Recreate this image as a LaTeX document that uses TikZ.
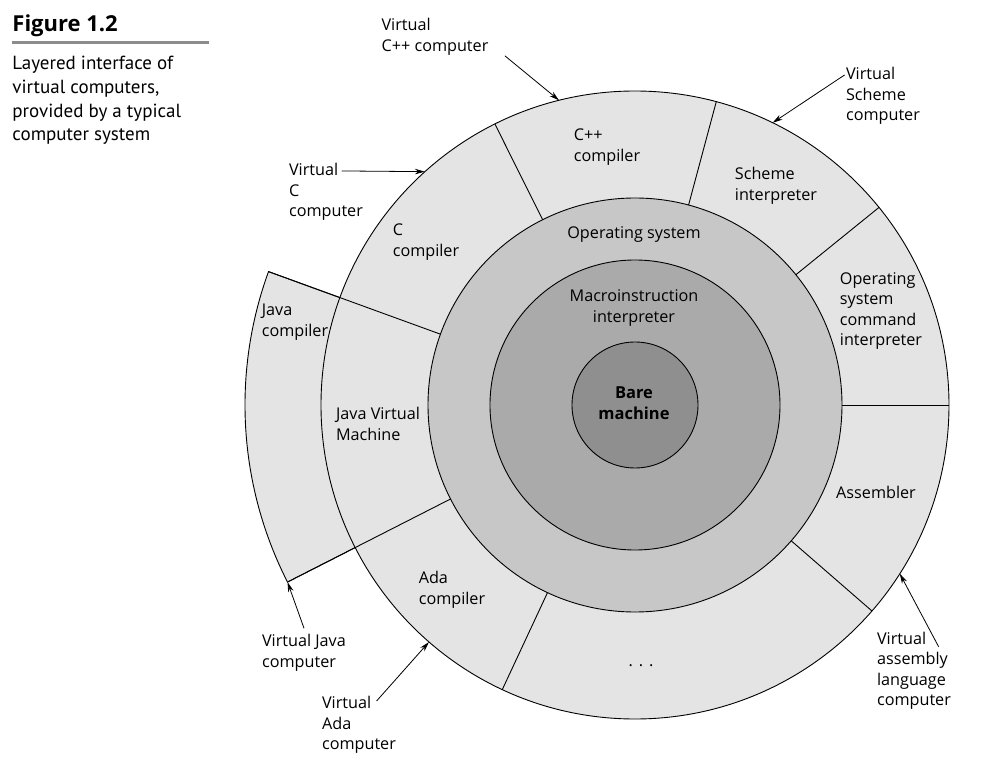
\documentclass[tikz,border=0pt]{standalone}
\usepackage{fontspec}
\setmainfont{Open Sans}
\newfontfamily\capfont{PT Sans}
\usetikzlibrary{arrows.meta}

\definecolor{outerfill}{gray}{0.895}
\definecolor{osfill}{gray}{0.78}
\definecolor{macrofill}{gray}{0.665}
\definecolor{barefill}{gray}{0.56}

\begin{document}
\begin{tikzpicture}[x=1pt, y=1pt, line width=0.9pt,
    lbl/.style={align=left, inner sep=0pt, font=\fontsize{16.2}{20.5}\selectfont},
    ctr/.style={align=center, inner sep=0pt, font=\fontsize{16.2}{20.5}\selectfont},
    arr/.style={-{Stealth[length=10pt, width=5.5pt]}, line width=0.8pt}]
    \useasboundingbox (-635,-368) rectangle (365,405);

    % caption at the top left
    \node[anchor=base west, inner sep=0pt, font=\fontsize{22}{26}\selectfont\bfseries] (fig) at (-623,373) {Figure 1.2};
    \draw[line width=3pt, gray!90] (-623,362) -- (-426,362);
    \node[anchor=north west, align=left, inner sep=0pt, font=\capfont\fontsize{19}{23.6}\selectfont] (cap) at (-623,349)
        {Layered interface of\\virtual computers,\\provided by a typical\\computer system};

    % Java compiler sticks out of the ring
    \filldraw[fill=outerfill] (160:314pt) -- (160:390pt) arc[start angle=160, end angle=207, radius=390pt] -- (207:314pt) -- cycle;

    % the rings
    \filldraw[fill=outerfill] (0,0) circle[radius=314pt];
    \filldraw[fill=osfill] (0,0) circle[radius=207pt];
    \filldraw[fill=macrofill] (0,0) circle[radius=145pt];
    \filldraw[fill=barefill] (0,0) circle[radius=63pt];

    % dividers of the outer ring
    \foreach \a in {0,39,75,116.5,245,319}
        \draw (\a:207pt) -- (\a:314pt);
    \foreach \a in {160,207}
        \draw (\a:207pt) -- (\a:390pt);

    % inside texts
    \node[ctr, font=\fontsize{16.5}{20.5}\selectfont\bfseries] (bare) at (-1,2) {Bare\\machine};
    \node[ctr] (macro) at (-1,97) {Macroinstruction\\interpreter};
    \node[ctr] (os) at (-1,170) {Operating system};
    \node[lbl] (cpp) at (-28,258) {C++\\compiler};
    \node[lbl] (scheme) at (141,219) {Scheme\\interpreter};
    \node[lbl] (oscmd) at (246,94) {Operating\\system\\command\\interpreter};
    \node[lbl] (asm) at (241,-87) {Assembler};
    \node[lbl] (dots) at (6,-261) {.\hspace{6pt}.\hspace{6pt}.};
    \node[lbl] (ada) at (-183,-185) {Ada\\compiler};
    \node[lbl] (jvm) at (-257,-19) {Java Virtual\\Machine};
    \node[lbl] (javac) at (-340,83) {Java\\compiler};
    \node[lbl] (cc) at (-209,163) {C\\compiler};

    % outside labels and their arrows
    \coordinate (cppTip) at (104:314pt);
    \coordinate (schemeTip) at (64:314pt);
    \coordinate (cTip) at (132:314pt);
    \coordinate (javaTip) at (207:390pt);
    \coordinate (adaTip) at (229:314pt);
    \coordinate (asmTip) at (-32.5:314pt);

    \node[lbl] (vcpp) at (-200,368) {Virtual\\C++ computer};
    \node[lbl] (vscheme) at (248,309) {Virtual\\Scheme\\computer};
    \node[lbl] (vc) at (-309,213) {Virtual\\C\\computer};
    \node[lbl] (vjava) at (-331,-248) {Virtual Java\\computer};
    \node[lbl] (vada) at (-276,-320) {Virtual\\Ada\\computer};
    \node[lbl] (vasm) at (279,-266) {Virtual\\assembly\\language\\computer};

    \draw[arr] ([xshift=16pt]vcpp.south east) -- (cppTip);
    \draw[arr] ([xshift=-1pt, yshift=-8pt]vscheme.north west) -- (schemeTip);
    \draw[arr] ([xshift=53pt, yshift=-8pt]vc.north west) -- (cTip);
    \draw[arr] ([yshift=6pt]vjava.north) -- (javaTip);
    \draw[arr] ([xshift=55pt, yshift=-5pt]vada.north west) -- (adaTip);
    \draw[arr] ([xshift=62pt, yshift=-15pt]vasm.north west) -- (asmTip);
\end{tikzpicture}
\end{document}
